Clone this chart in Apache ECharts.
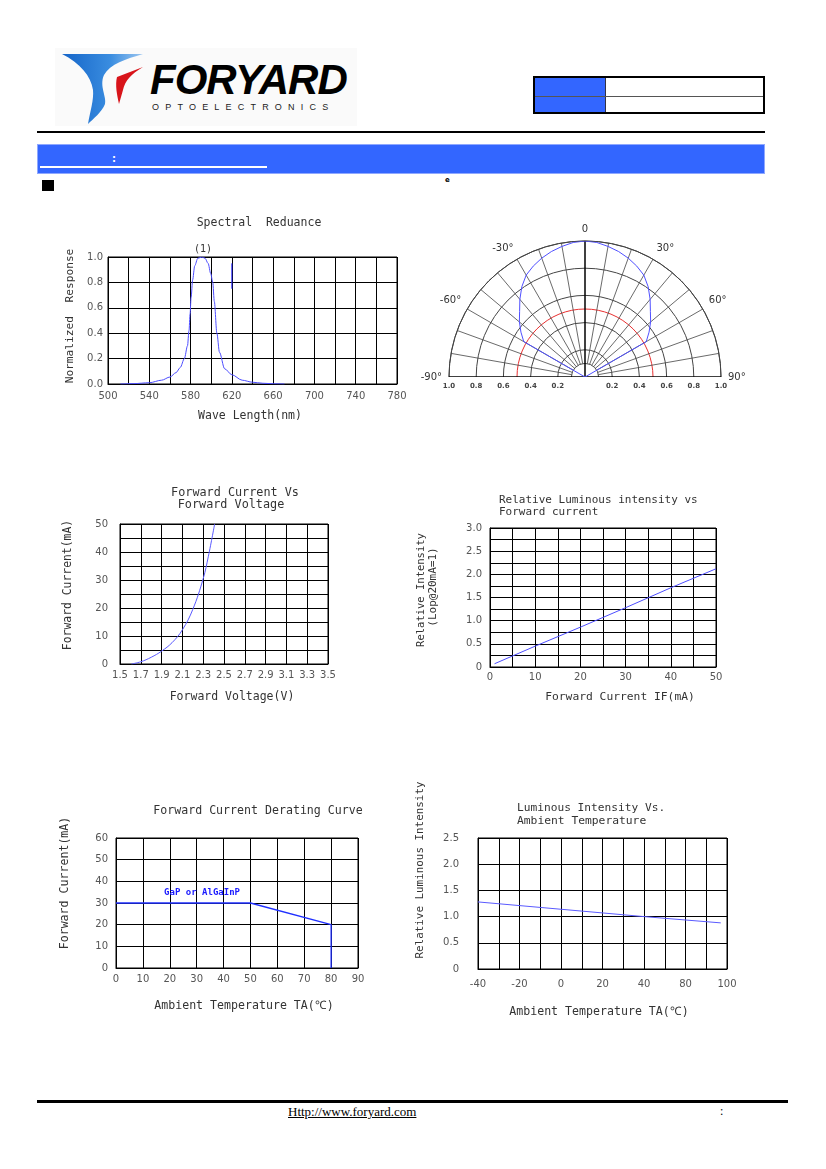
<!DOCTYPE html>
<html>
<head>
<meta charset="utf-8">
<script src="https://cdn.jsdelivr.net/npm/echarts@6/dist/echarts.min.js"></script>
<style>
  html, body { margin: 0; padding: 0; background: #fff; }
  body { width: 826px; height: 1169px; position: relative; overflow: hidden; }
  .abs { position: absolute; }
  #chart { position: absolute; left: 0; top: 0; width: 826px; height: 1169px; }
</style>
</head>
<body>
<!-- header -->
<div class="abs" style="left:55px;top:48px;width:302px;height:78px;background:#fafafa;"></div>
<svg class="abs" style="left:0;top:0;" width="360" height="130">
  <defs>
    <linearGradient id="blueSw" x1="0" y1="0" x2="1" y2="0">
      <stop offset="0" stop-color="#1565c8"/>
      <stop offset="0.6" stop-color="#3a8de0"/>
      <stop offset="1" stop-color="#9cc6f0"/>
    </linearGradient>
  </defs>
  <path d="M62,54 L143,54 C126,59 110,64 104,75 C99,86 107,97 105,104 C102,112 93,119 88,124 C90,112 94,100 93,90 C91,76 80,63 62,54 Z" fill="url(#blueSw)"/>
  <path d="M117,77 L143,67 C131,74 125,81 123,90 L119,104 C117,95 115,85 117,77 Z" fill="#d8141a"/>
</svg>
<div class="abs" style="left:150px;top:59px;font:italic bold 42px 'Liberation Sans';line-height:42px;letter-spacing:-1px;color:#000;">FORYARD</div>
<div class="abs" style="left:152px;top:102px;font:9px 'Liberation Sans';line-height:10px;letter-spacing:6.2px;color:#222;">OPTOELECTRONICS</div>

<div class="abs" style="left:533px;top:76px;width:232px;height:38px;border:2px solid #000;box-sizing:border-box;">
  <div class="abs" style="left:0;top:0;width:70px;height:34px;background:#3366ff;border-right:1px solid #334;"></div>
  <div class="abs" style="left:0;top:18px;width:228px;height:1px;background:#555;"></div>
</div>
<div class="abs" style="left:37px;top:131px;width:728px;height:2px;background:#000;"></div>
<div class="abs" style="left:37px;top:144px;width:728px;height:30px;background:#3366ff;box-sizing:border-box;border:1px solid #8fa8ff;"></div>
<div class="abs" style="left:40px;top:166px;width:227px;height:2px;background:#fff;"></div>
<div class="abs" style="left:112px;top:153px;font:bold 10px 'DejaVu Sans';color:#fff;">:</div>
<div class="abs" style="left:42px;top:180px;width:12px;height:11px;background:#000;"></div>
<div class="abs" style="left:445px;top:176px;font:bold 7px 'DejaVu Sans';color:#000;">e</div>

<!-- footer -->
<div class="abs" style="left:37px;top:1100px;width:751px;height:2.5px;background:#000;"></div>
<div class="abs" style="left:288px;top:1104px;font:13px 'Liberation Serif';text-decoration:underline;color:#000;">Http://www.foryard.com</div>
<div class="abs" style="left:720px;top:1104px;font:12px 'Liberation Serif';color:#000;">:</div>

<div id="chart"></div>

<script>
// ---- data read from the sheet ----

// Spectral response
const specWave = [512, 525, 540, 552, 560, 566, 570, 574, 577, 578.5, 579.5, 580.5, 582, 584, 587, 591, 594, 597, 599.5, 601.5, 603, 605.5, 608, 613, 620, 630, 640, 650, 660, 671];
const specResp = [0, 0.003, 0.01, 0.03, 0.055, 0.09, 0.13, 0.2, 0.3, 0.42, 0.55, 0.68, 0.82, 0.93, 0.99, 1.0, 0.99, 0.95, 0.87, 0.8, 0.65, 0.4, 0.25, 0.12, 0.073, 0.03, 0.014, 0.006, 0.002, 0];
const specSpikeWave = [620, 620];
const specSpikeResp = [0.95, 0.75];
const specPeak = [592, 1.0];
const specXLabels = ['500', '540', '580', '620', '660', '700', '740', '780'];
const specYLabels = ['0.0', '0.2', '0.4', '0.6', '0.8', '1.0'];

// Radiation diagram
const polarAngles = [-90, -60, -55, -50, -45, -40, -35, -30, -25, -20, -15, -10, -5, 0, 5, 10, 15, 20, 25, 30, 35, 40, 45, 50, 55, 60, 90];
const polarIntensity = [0, 0.52, 0.575, 0.63, 0.68, 0.745, 0.81, 0.865, 0.9, 0.93, 0.955, 0.975, 0.993, 1.0, 0.993, 0.975, 0.955, 0.93, 0.9, 0.865, 0.81, 0.745, 0.68, 0.63, 0.575, 0.52, 0];
const polarSpokes = [-80, -70, -60, -50, -40, -30, -20, -10, 10, 20, 30, 40, 50, 60, 70, 80];
const polarMainSpokes = [-90, 0, 90];
const polarAngleLabels = ['-90°', '-60°', '-30°', '0', '30°', '60°', '90°'];
const polarRadiusLabels = ['1.0', '0.8', '0.6', '0.4', '0.2', '', '0.2', '0.4', '0.6', '0.8', '1.0'];

// Forward current vs forward voltage
const fvVolt = [1.61, 1.70, 1.80, 1.90, 2.00, 2.10, 2.20, 2.30, 2.35, 2.41];
const fvCurr = [0, 0.8, 2.4, 4.6, 7.6, 12.2, 19.5, 30.5, 38.5, 50];
const fvXLabels = ['1.5', '1.7', '1.9', '2.1', '2.3', '2.5', '2.7', '2.9', '3.1', '3.3', '3.5'];
const fvYLabels = ['0', '10', '20', '30', '40', '50'];

// Relative luminous intensity vs forward current
const liCurr = [1, 10, 20, 30, 40, 50];
const liRel = [0.07, 0.45, 0.86, 1.28, 1.71, 2.12];
const liXLabels = ['0', '10', '20', '30', '40', '50'];
const liYLabels = ['0', '0.5', '1.0', '1.5', '2.0', '2.5', '3.0'];

// Derating curve
const derTemp = [0, 50, 80, 80];
const derCurr = [30, 30, 20, 0];
const derNote = 'GaP or AlGaInP';
const derNoteAt = [32, 34.6];
const derXLabels = ['0', '10', '20', '30', '40', '50', '60', '70', '80', '90'];
const derYLabels = ['0', '10', '20', '30', '40', '50', '60'];

// Luminous intensity vs ambient temperature
const ltTemp = [-40, 0, 40, 77];
const ltRel = [1.28, 1.14, 1.0, 0.88];
const ltXLabels = ['-40', '', '-20', '', '0', '', '20', '', '40', '', '80', '', '100'];
const ltYLabels = ['0', '0.5', '1.0', '1.5', '2.0', '2.5'];

// ---- helpers ----
const zip = (a, b) => a.map((v, i) => [v, b[i]]);
const MONO = '"DejaVu Sans Mono", monospace';
const SANS = '"DejaVu Sans", sans-serif';
const CLEAR = 'rgba(0,0,0,0)';

function pick(labels, min, step) {
  return function (v) {
    const k = (v - min) / step;
    const r = Math.round(k);
    return Math.abs(k - r) < 1e-6 && r >= 0 && r < labels.length ? labels[r] : '';
  };
}

function axis(kind, grid, min, max, interval, labels, step, margin, splitColor) {
  return {
    type: 'value', gridIndex: grid, min: min, max: max, interval: interval,
    axisLine: { show: true, onZero: false, lineStyle: { color: '#000', width: 1 } },
    axisTick: { show: false },
    splitLine: { show: true, lineStyle: { color: splitColor || '#000', width: 1 } },
    axisLabel: {
      formatter: pick(labels, min, step), margin: margin,
      color: '#555', fontSize: 10, fontFamily: SANS
    }
  };
}

function txt(text, x, y, size, rot, align) {
  return {
    type: 'text', x: x, y: y, rotation: rot ? Math.PI / 2 : 0,
    style: {
      text: text, fill: '#333', font: size + 'px ' + MONO,
      textAlign: align || 'center', textVerticalAlign: 'middle'
    }
  };
}

const gridBase = { show: true, borderColor: '#000', borderWidth: 1, containLabel: false };

const chart = echarts.init(document.getElementById('chart'), null, { renderer: 'canvas' });

const spokeSeries = polarSpokes.map(a => ({
  type: 'line', coordinateSystem: 'polar', symbol: 'none', silent: true,
  data: [[0.1, a], [1, a]],
  lineStyle: { color: '#444', width: 0.8 }
}));
const mainSpokeSeries = polarMainSpokes.map(a => ({
  type: 'line', coordinateSystem: 'polar', symbol: 'none', silent: true,
  data: [[0, a], [1, a]],
  lineStyle: { color: '#000', width: 1.5 }
}));

const option = {
  animation: false,
  backgroundColor: 'transparent',
  grid: [
    Object.assign({ left: 108, top: 257, width: 289, height: 127 }, gridBase),
    Object.assign({ left: 120, top: 524, width: 208, height: 140 }, gridBase),
    Object.assign({ left: 490, top: 528, width: 226, height: 139 }, gridBase),
    Object.assign({ left: 116, top: 838, width: 242, height: 130 }, gridBase),
    Object.assign({ left: 478, top: 838, width: 249, height: 131 }, gridBase),
    { left: 449, top: 376, width: 272, height: 1, show: false }
  ],
  xAxis: [
    axis('x', 0, 500, 780, 20, specXLabels, 40, 7),
    axis('x', 1, 1.5, 3.5, 0.1, fvXLabels, 0.2, 6, ['#000', CLEAR]),
    axis('x', 2, 0, 50, 5, liXLabels, 10, 5),
    axis('x', 3, 0, 90, 10, derXLabels, 10, 6),
    axis('x', 4, -40, 80, 10, ltXLabels, 10, 10),
    {
      type: 'value', gridIndex: 5, min: -1, max: 1, interval: 0.2,
      axisLine: { show: false }, axisTick: { show: false }, splitLine: { show: false },
      axisLabel: { formatter: pick(polarRadiusLabels, -1, 0.2), margin: 6, color: '#444', fontSize: 7, fontWeight: 'bold', fontFamily: SANS }
    }
  ],
  yAxis: [
    axis('y', 0, 0, 1, 0.2, specYLabels, 0.2, 5),
    axis('y', 1, 0, 50, 5, fvYLabels, 10, 12),
    axis('y', 2, 0, 3, 0.25, liYLabels, 0.5, 8),
    axis('y', 3, 0, 60, 10, derYLabels, 10, 8),
    axis('y', 4, 0, 2.5, 0.5, ltYLabels, 0.5, 19),
    { type: 'value', gridIndex: 5, show: false, min: 0, max: 1 }
  ],
  polar: { center: [585, 377], radius: 136 },
  angleAxis: {
    type: 'value', min: -90, max: 90, interval: 10,
    startAngle: 180, endAngle: 0, clockwise: true,
    axisLine: { show: true, lineStyle: { color: '#444', width: 1 } },
    axisTick: { show: false },
    splitLine: { show: false },
    axisLabel: { formatter: pick(polarAngleLabels, -90, 30), margin: 7, color: '#333', fontSize: 10, fontFamily: SANS }
  },
  radiusAxis: {
    type: 'value', min: 0, max: 1, interval: 0.1,
    axisLine: { show: false }, axisTick: { show: false }, axisLabel: { show: false },
    splitLine: {
      show: true,
      lineStyle: {
        width: 1,
        color: [CLEAR, '#444', '#444', CLEAR, '#444', '#e83030', '#444', CLEAR, '#444', CLEAR, '#444']
      }
    }
  },
  series: [
    {
      type: 'line', xAxisIndex: 0, yAxisIndex: 0, symbol: 'none',
      smooth: 0.3, smoothMonotone: 'x',
      data: zip(specWave, specResp),
      lineStyle: { color: '#4d4dff', width: 1 },
      markPoint: {
        symbol: 'circle', symbolSize: 0, silent: true,
        data: [{ coord: specPeak }],
        label: { show: true, position: 'top', distance: 3, formatter: '(1)', color: '#333', fontSize: 10, fontFamily: MONO }
      }
    },
    {
      type: 'line', xAxisIndex: 0, yAxisIndex: 0, symbol: 'none',
      data: zip(specSpikeWave, specSpikeResp),
      lineStyle: { color: '#2020ff', width: 1 }
    },
    ...spokeSeries,
    ...mainSpokeSeries,
    {
      type: 'line', coordinateSystem: 'polar', symbol: 'none',
      data: zip(polarIntensity, polarAngles),
      lineStyle: { color: '#5050ff', width: 1 }
    },
    {
      type: 'line', xAxisIndex: 1, yAxisIndex: 1, symbol: 'none',
      smooth: 0.4,
      data: zip(fvVolt, fvCurr),
      lineStyle: { color: '#5a5aff', width: 1 }
    },
    {
      type: 'line', xAxisIndex: 2, yAxisIndex: 2, symbol: 'none',
      data: zip(liCurr, liRel),
      lineStyle: { color: '#4d4dff', width: 1 }
    },
    {
      type: 'line', xAxisIndex: 3, yAxisIndex: 3, symbol: 'none',
      data: zip(derTemp, derCurr),
      lineStyle: { color: '#2030ff', width: 1.3 },
      markPoint: {
        symbol: 'circle', symbolSize: 0, silent: true,
        data: [{ coord: derNoteAt }],
        label: { show: true, position: 'inside', formatter: derNote, color: '#1a1aff', fontSize: 9, fontWeight: 'bold', fontFamily: MONO }
      }
    },
    {
      type: 'line', xAxisIndex: 4, yAxisIndex: 4, symbol: 'none',
      data: zip(ltTemp, ltRel),
      lineStyle: { color: '#5a5aff', width: 1 }
    }
  ],
  graphic: [
    // spectral
    txt('Spectral  Reduance', 259, 223, 11.5),
    txt('Normalized  Response', 70, 316, 11.2, true),
    txt('Wave Length(nm)', 250, 416, 11.5),
    // forward current vs voltage
    txt('Forward Current Vs', 235, 493, 11.8),
    txt('Forward Voltage', 231, 505, 11.8),
    txt('Forward Current(mA)', 68, 585, 11.4, true),
    txt('Forward Voltage(V)', 232, 697, 11.5),
    // relative intensity vs current
    txt('Relative Luminous intensity vs', 499, 500, 11, false, 'left'),
    txt('Forward current', 499, 512, 11, false, 'left'),
    txt('Relative Intensity', 421, 590, 10.5, true),
    txt('(Lop@20mA=1)', 433, 587, 11, true),
    txt('Forward Current IF(mA)', 620, 697, 11.3),
    // derating
    txt('Forward Current Derating Curve', 258, 811, 11.6),
    txt('Forward Current(mA)', 65, 883, 11.6, true),
    txt('Ambient Temperature TA(℃)', 244, 1006, 11.6),
    // intensity vs temperature
    txt('Luminous Intensity Vs.', 517, 808, 11.2, false, 'left'),
    txt('Ambient Temperature', 517, 821, 11.3, false, 'left'),
    txt('Relative Luminous Intensity', 420, 870, 10.9, true),
    txt('Ambient Temperature TA(℃)', 599, 1012, 11.6)
  ]
};

chart.setOption(option);
</script>
</body>
</html>
